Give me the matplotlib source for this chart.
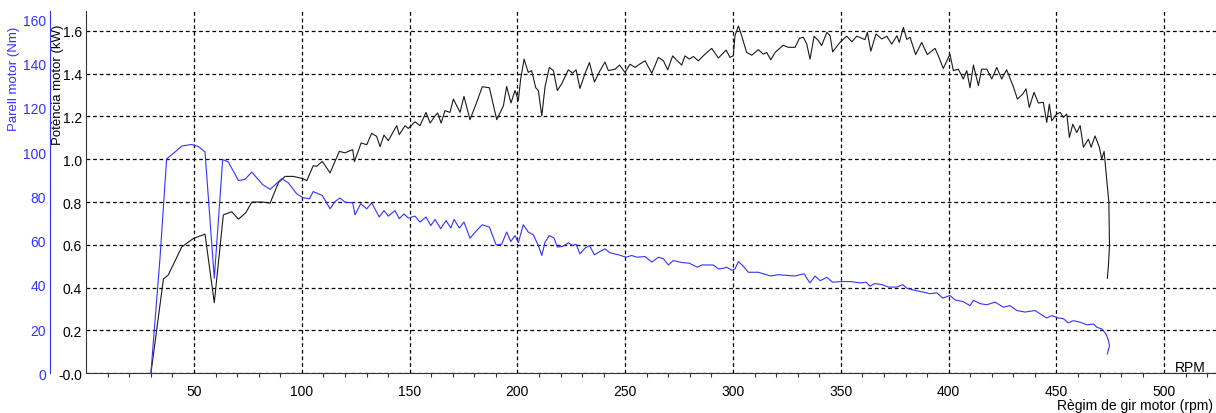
import matplotlib
matplotlib.use('Agg')
import matplotlib.pyplot as plt
from matplotlib.ticker import FixedLocator, FixedFormatter

plt.rcParams['font.family'] = ['Liberation Sans', 'DejaVu Sans']

# Potència motor (kW) vs rpm
pow_rpm = [30.0, 32.0, 35.8, 38.1, 44.3, 49.7, 55.1, 59.4, 63.6, 67.5, 70.6, 74.0, 76.8, 81.9, 85.3, 89.1,
           92.2, 96.0, 100.4, 102.3, 105.3, 106.9, 109.5, 113.1, 117.4, 120.0, 123.6, 124.4, 127.5, 130.1,
           132.4, 134.7, 136.3, 138.1, 140.1, 144.0, 145.2, 147.9, 149.4, 152.5, 154.8, 157.6, 159.5, 161.8,
           163.0, 164.6, 166.4, 168.7, 170.3, 173.4, 175.2, 178.0, 181.1, 183.7, 187.0, 190.4, 193.5, 195.0,
           197.0, 198.9, 200.4, 201.5, 203.1, 205.0, 206.6, 208.5, 209.7, 211.3, 212.8, 214.8, 216.7, 218.5,
           220.5, 223.6, 225.6, 227.2, 229.0, 231.4, 233.4, 235.7, 238.3, 240.6, 242.2, 245.3, 247.3, 249.9,
           252.2, 254.6, 256.6, 259.2, 262.3, 265.4, 267.7, 269.7, 272.0, 273.9, 276.2, 277.7, 279.7, 281.6,
           283.9, 287.0, 290.1, 293.2, 296.8, 298.6, 300.1, 300.9, 302.5, 304.0, 306.3, 308.7, 311.7, 314.1,
           315.6, 317.5, 319.5, 323.3, 325.6, 328.8, 330.8, 332.6, 334.2, 335.7, 337.6, 339.6, 341.1, 343.5,
           345.0, 346.2, 349.6, 352.7, 355.1, 357.4, 361.2, 362.3, 363.9, 366.3, 369.0, 371.3, 373.6, 376.0,
           377.1, 379.0, 380.6, 382.1, 384.7, 387.5, 390.1, 393.7, 395.2, 397.5, 400.6, 402.2, 404.5, 406.8,
           408.4, 409.9, 411.5, 413.8, 415.3, 417.7, 420.0, 422.3, 424.6, 426.9, 430.0, 431.9, 434.4, 435.9,
           437.4, 439.6, 441.6, 443.9, 445.5, 446.7, 447.8, 450.1, 451.7, 453.2, 454.8, 456.0, 457.6, 459.4,
           461.0, 462.5, 464.8, 466.1, 467.9, 469.9, 471.0, 472.1, 473.0, 473.6, 474.3, 474.6, 474.1, 473.6]
pow_kw = [0.0, 0.15, 0.44, 0.46, 0.59, 0.63, 0.65, 0.33, 0.74, 0.755, 0.72, 0.75, 0.80, 0.80, 0.795, 0.89,
          0.92, 0.92, 0.91, 0.90, 0.97, 0.967, 0.99, 0.936, 1.037, 1.03, 1.045, 0.989, 1.076, 1.068,
          1.121, 1.107, 1.059, 1.113, 1.087, 1.157, 1.115, 1.157, 1.144, 1.175, 1.157, 1.219, 1.169, 1.203,
          1.216, 1.169, 1.227, 1.219, 1.281, 1.219, 1.294, 1.185, 1.266, 1.339, 1.334, 1.185, 1.25, 1.34,
          1.263, 1.321, 1.274, 1.375, 1.468, 1.406, 1.414, 1.334, 1.321, 1.203, 1.339, 1.429, 1.414, 1.321,
          1.352, 1.418, 1.402, 1.418, 1.331, 1.402, 1.452, 1.361, 1.414, 1.454, 1.414, 1.421, 1.44, 1.406,
          1.444, 1.429, 1.444, 1.46, 1.402, 1.476, 1.46, 1.418, 1.483, 1.463, 1.44, 1.483, 1.468, 1.48,
          1.46, 1.491, 1.518, 1.473, 1.51, 1.476, 1.483, 1.577, 1.623, 1.577, 1.499, 1.486, 1.512, 1.491,
          1.499, 1.465, 1.499, 1.533, 1.523, 1.523, 1.565, 1.57, 1.538, 1.468, 1.575, 1.554, 1.531, 1.593,
          1.577, 1.502, 1.546, 1.575, 1.549, 1.575, 1.559, 1.593, 1.505, 1.585, 1.562, 1.575, 1.538, 1.577,
          1.546, 1.616, 1.56, 1.57, 1.489, 1.546, 1.489, 1.518, 1.484, 1.424, 1.491, 1.414, 1.421, 1.375,
          1.414, 1.334, 1.44, 1.344, 1.421, 1.421, 1.375, 1.429, 1.375, 1.418, 1.339, 1.281, 1.305, 1.329,
          1.242, 1.313, 1.263, 1.266, 1.172, 1.258, 1.18, 1.211, 1.219, 1.196, 1.211, 1.102, 1.164, 1.125,
          1.157, 1.056, 1.094, 1.056, 1.109, 1.056, 1.001, 1.037, 0.939, 0.877, 0.799, 0.597, 0.503, 0.444]

# Parell motor (Nm) vs rpm
trq_rpm = [30.0, 30.8, 34.2, 37.3, 41.2, 44.3, 48.9, 52.0, 55.1, 59.4, 63.3, 65.9, 70.6, 73.6, 76.8, 81.9,
           85.3, 90.7, 93.7, 97.6, 100.4, 103.5, 105.3, 109.5, 113.1, 115.4, 117.7, 120.0, 123.6, 124.7,
           127.3, 130.1, 132.4, 135.9, 138.1, 140.1, 143.2, 145.2, 147.4, 149.4, 152.5, 154.8, 157.6, 159.8,
           161.8, 164.4, 166.9, 169.1, 170.6, 173.1, 175.2, 178.0, 181.1, 183.7, 187.0, 190.1, 192.7, 195.0,
           196.9, 198.9, 200.4, 202.7, 205.0, 207.4, 209.7, 211.3, 212.8, 214.8, 217.0, 218.5, 221.0, 223.6,
           225.6, 227.2, 229.0, 231.4, 233.4, 235.7, 238.3, 240.6, 242.9, 246.8, 250.4, 253.0, 255.3, 259.2,
           262.3, 265.4, 267.7, 270.0, 272.3, 276.2, 279.7, 283.4, 285.5, 290.9, 293.2, 295.5, 297.0, 299.4,
           300.9, 302.5, 304.5, 307.1, 311.7, 314.1, 317.5, 321.0, 325.2, 328.8, 331.1, 333.0, 334.2, 335.7,
           338.0, 340.4, 343.5, 346.2, 350.4, 354.3, 358.9, 361.7, 363.5, 365.7, 369.0, 372.1, 376.0, 378.7,
           380.6, 384.4, 388.3, 391.4, 394.5, 397.3, 400.6, 403.0, 406.8, 409.9, 411.5, 414.6, 417.7, 421.5,
           425.4, 428.5, 431.6, 435.4, 440.1, 442.4, 445.5, 447.8, 450.9, 453.2, 455.5, 457.8, 461.0, 464.1,
           467.2, 468.7, 471.0, 473.0, 474.1, 474.6, 473.6]
trq_nm = [0.0, 10.2, 51.8, 97.0, 100.1, 102.8, 103.5, 102.6, 100.1, 43.0, 96.7, 95.6, 87.2, 87.7, 91.0, 85.3,
          83.2, 88.0, 86.2, 81.2, 79.5, 78.9, 82.2, 80.4, 74.4, 77.7, 79.3, 77.4, 77.1, 71.7,
          76.7, 74.4, 77.1, 70.7, 73.6, 71.1, 73.6, 69.9, 72.1, 70.2, 71.1, 68.4, 70.7, 66.8,
          69.6, 65.4, 69.1, 65.7, 69.6, 65.7, 68.4, 61.1, 64.6, 67.2, 66.1, 58.1, 58.4, 63.9,
          59.6, 62.3, 59.0, 67.2, 63.9, 62.6, 57.8, 53.3, 59.3, 62.3, 61.1, 57.1, 57.4, 59.0,
          57.8, 58.4, 54.0, 56.7, 57.8, 53.6, 55.1, 56.3, 54.5, 53.6, 52.5, 53.3, 52.5, 52.8,
          50.3, 52.5, 51.8, 49.0, 51.0, 50.1, 49.8, 48.0, 49.0, 49.0, 47.2, 47.5, 48.0, 46.6,
          47.2, 50.5, 48.7, 45.7, 45.7, 45.0, 44.0, 44.6, 44.3, 44.0, 44.6, 45.0, 43.0, 40.9,
          44.0, 41.9, 43.4, 41.2, 41.5, 41.5, 40.9, 41.2, 39.4, 40.6, 40.1, 39.0, 39.0, 40.1,
          38.5, 37.5, 36.7, 36.0, 36.4, 34.0, 35.2, 33.2, 32.4, 30.6, 33.0, 31.5, 31.0, 32.2,
          29.9, 30.6, 28.4, 27.7, 28.4, 26.9, 25.0, 26.1, 25.0, 24.7, 22.8, 23.8, 23.1, 21.9,
          22.3, 20.8, 20.1, 17.8, 14.8, 12.5, 8.7]

x_major = [50, 100, 150, 200, 250, 300, 350, 400, 450, 500]
kw_ticks = [0.0, 0.2, 0.4, 0.6, 0.8, 1.0, 1.2, 1.4, 1.6]
kw_labels = ['-0.0', '0.2', '0.4', '0.6', '0.8', '1.0', '1.2', '1.4', '1.6']
nm_ticks = [0, 20, 40, 60, 80, 100, 120, 140, 160]

blue = '#3333ff'

fig = plt.figure(figsize=(12.16, 4.14), dpi=100)
ax = fig.add_axes([0.0709, 0.0959, 0.9291, 0.8758])

ax.plot(pow_rpm, pow_kw, color='#1a1a1a', lw=0.8, zorder=3)
ax.set_xlim(0, 524)
ax.set_ylim(0, 1.694)

ax.xaxis.set_major_locator(FixedLocator(x_major))
ax.xaxis.set_minor_locator(FixedLocator([v for v in range(10, 521, 10) if v % 50]))
ax.yaxis.set_major_locator(FixedLocator(kw_ticks))
ax.yaxis.set_major_formatter(FixedFormatter(kw_labels))
ax.tick_params(axis='x', which='major', length=0, pad=8, labelsize=10)
ax.tick_params(axis='x', which='minor', length=3, width=0.8, direction='out', color='#333333')
ax.tick_params(axis='y', length=0, pad=3, labelsize=10)
ax.grid(True, which='major', color='black', linestyle=(0, (3, 2.3)), lw=0.9)
for s in ['top', 'right']:
    ax.spines[s].set_visible(False)
for s in ['left', 'bottom']:
    ax.spines[s].set_color('#333333')

# torque on its own axis, drawn further left
ax2 = ax.twinx()
ax2.plot(trq_rpm, trq_nm, color=blue, lw=0.8, zorder=3)
ax2.set_ylim(0, 164)
ax2.yaxis.set_major_locator(FixedLocator(nm_ticks))
ax2.yaxis.set_ticks_position('left')
ax2.yaxis.set_label_position('left')
ax2.spines['left'].set_position(('axes', -0.032))
ax2.spines['left'].set_visible(True)
ax2.spines['left'].set_color(blue)
for s in ['top', 'right', 'bottom']:
    ax2.spines[s].set_visible(False)
ax2.tick_params(axis='y', length=0, pad=3, labelsize=10, colors=blue)

fig.text(14 / 1216, 1 - 27 / 414, 'Parell motor (Nm)', rotation=90, ha='center', va='top',
         fontsize=9.5, color=blue)
fig.text(58 / 1216, 1 - 25 / 414, 'Potència motor (kW)', rotation=90, ha='center', va='top',
         fontsize=9.5, color='black')
fig.text(1206 / 1216, 1 - 368 / 414, 'RPM', ha='right', va='center', fontsize=10)
fig.text(1213 / 1216, 1 - 406 / 414, 'Règim de gir motor (rpm)', ha='right', va='center', fontsize=10)

fig.savefig('out.png', dpi=100)
